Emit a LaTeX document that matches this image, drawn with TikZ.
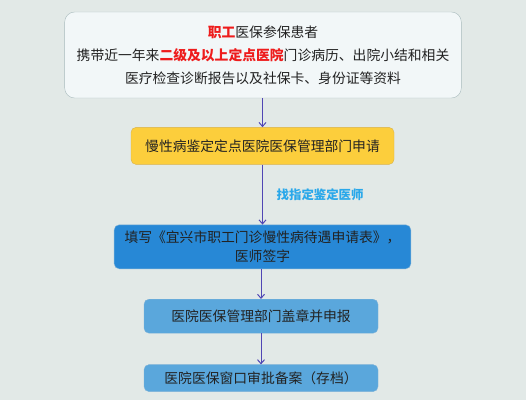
\documentclass[tikz,border=0pt]{standalone}
\usepackage{xcolor}
\usepackage{fontspec}
\setmainfont{Noto Sans CJK SC}
\usepackage{tikz}
\usetikzlibrary{positioning, arrows.meta}

\definecolor{bgcol}{HTML}{E2E9E7}
\definecolor{topfill}{HTML}{F2F7F8}
\definecolor{topline}{HTML}{A9BBBD}
\definecolor{yellowfill}{HTML}{FCCE3C}
\definecolor{yellowline}{HTML}{D9B24A}
\definecolor{darkblue}{HTML}{2788D6}
\definecolor{lightblue}{HTML}{5AA7DC}
\definecolor{blueline}{HTML}{7FB3D8}
\definecolor{keyred}{HTML}{EE1C1C}
\definecolor{labelblue}{HTML}{2AA8EA}
\definecolor{arrowcol}{HTML}{5046B4}
\definecolor{textcol}{HTML}{222222}

\begin{document}
\begin{tikzpicture}[x=1pt, y=1pt, node distance=30pt, >={Straight Barb[length=4pt, width=7pt]}, every node/.style={font=\fontsize{13.8}{19}\selectfont, text=textcol}]
    \fill[bgcol] (0,0) rectangle (526,400);
    \useasboundingbox (0,0) rectangle (526,400);

    % Patient
    \node[draw=topline, rectangle, rounded corners=10pt, fill=topfill, text width=390pt, minimum height=86pt, align=center, font=\fontsize{13.8}{23}\selectfont] (patient) at (263,345)
        {\textcolor{keyred}{\textbf{职工}}医保参保患者\\携带近一年来\textcolor{keyred}{\textbf{二级及以上定点医院}}门诊病历、出院小结和相关\\医疗检查诊断报告以及社保卡、身份证等资料};

    % Apply
    \node[draw=yellowline, rectangle, rounded corners=5pt, fill=yellowfill, minimum width=263pt, minimum height=37pt, below=29pt of patient, xshift=-0.5pt] (apply) {慢性病鉴定定点医院医保管理部门申请};

    % Form
    \node[draw=blueline, rectangle, rounded corners=5pt, fill=darkblue, text width=290pt, minimum height=44pt, align=center, below=60pt of apply] (form) {填写《宜兴市职工门诊慢性病待遇申请表》，\\医师签字};

    % Stamp
    \node[draw=blueline, rectangle, rounded corners=5pt, fill=lightblue, minimum width=234pt, minimum height=34pt, below=30pt of form, xshift=-1.5pt] (stamp) {医院医保管理部门盖章并申报};

    % Archive
    \node[draw=blueline, rectangle, rounded corners=5pt, fill=lightblue, minimum width=234pt, minimum height=27pt, below=31pt of stamp] (archive) {医院医保窗口审批备案（存档）};

    % Edges
    \draw[->, color=arrowcol, line width=1pt] (patient.south -| apply) -- (apply);
    \draw[->, color=arrowcol, line width=1pt] (apply) -- (form);
    \draw[->, color=arrowcol, line width=1pt] (form.south -| stamp) -- (stamp);
    \draw[->, color=arrowcol, line width=1pt] (stamp) -- (archive);

    % Label
    \path (apply) -- node[right=14pt, inner sep=0pt, font=\fontsize{12.4}{14}\selectfont\bfseries, text=labelblue] (doctor) {找指定鉴定医师} (form);
\end{tikzpicture}
\end{document}
